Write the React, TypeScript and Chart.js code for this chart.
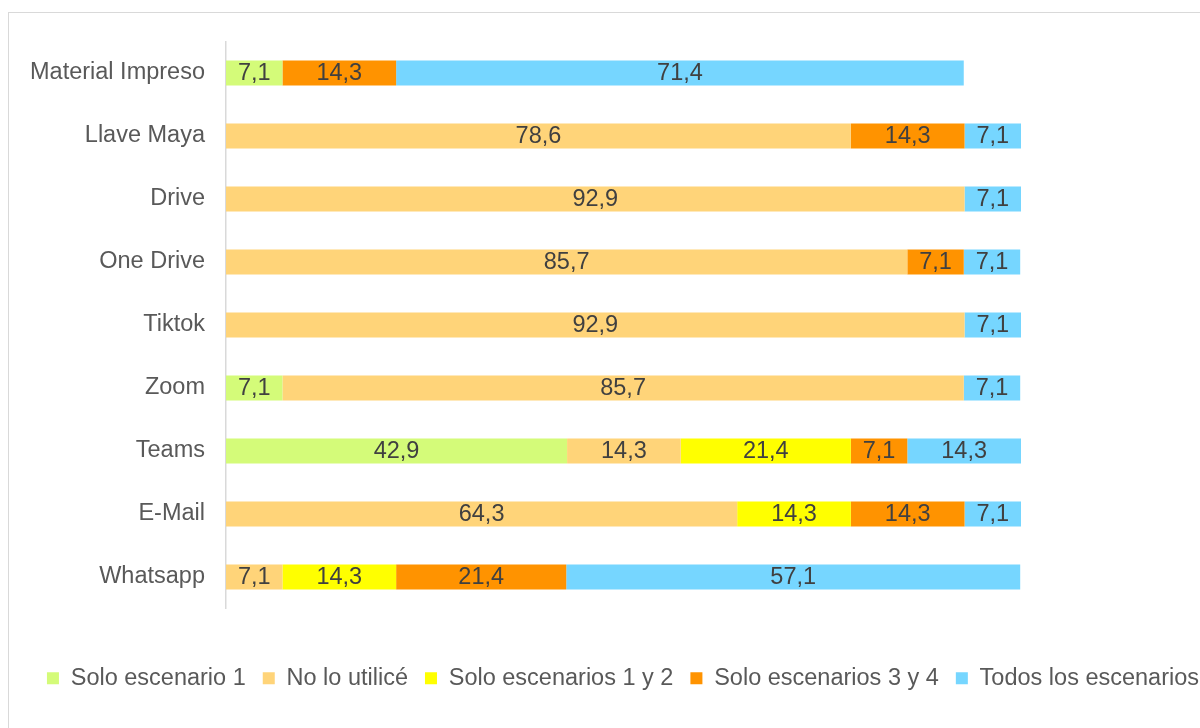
import React, { useEffect, useRef } from "react";
import { Chart, registerables } from "chart.js";

Chart.register(...registerables);

const categories = [
  "Material Impreso",
  "Llave Maya",
  "Drive",
  "One Drive",
  "Tiktok",
  "Zoom",
  "Teams",
  "E-Mail",
  "Whatsapp",
];

const seriesNames = [
  "Solo escenario 1",
  "No lo utilicé",
  "Solo escenarios 1 y 2",
  "Solo escenarios 3 y 4",
  "Todos los escenarios",
];

const soloEscenario1 = [7.1, 0, 0, 0, 0, 7.1, 42.9, 0, 0];
const noLoUtilice = [0, 78.6, 92.9, 85.7, 92.9, 85.7, 14.3, 64.3, 7.1];
const soloEscenarios12 = [0, 0, 0, 0, 0, 0, 21.4, 14.3, 14.3];
const soloEscenarios34 = [14.3, 14.3, 0, 7.1, 0, 0, 7.1, 14.3, 21.4];
const todosLosEscenarios = [71.4, 7.1, 7.1, 7.1, 7.1, 7.1, 14.3, 7.1, 57.1];

const seriesColors = ["#D4FB79", "#FFD479", "#FFFF00", "#FF9300", "#76D6FF"];

const FONT = "'Liberation Sans', Arial, Helvetica, sans-serif";

const dataLabelPlugin = {
  id: "inlineLabels",
  afterDatasetsDraw(chart: any) {
    const ctx = chart.ctx;
    ctx.save();
    ctx.font = `23.5px ${FONT}`;
    ctx.fillStyle = "#404040";
    ctx.textAlign = "center";
    ctx.textBaseline = "middle";
    chart.data.datasets.forEach((ds: any, di: number) => {
      const meta = chart.getDatasetMeta(di);
      meta.data.forEach((el: any, i: number) => {
        const v = ds.data[i];
        if (!v) return;
        const p = el.getProps(["x", "y", "base"], true);
        const cx = (p.x + p.base) / 2;
        ctx.fillText(v.toFixed(1).replace(".", ","), cx, p.y + 1);
      });
    });
    ctx.restore();
  },
};

export default function App() {
  const ref = useRef<HTMLCanvasElement | null>(null);

  useEffect(() => {
    if (!ref.current) return;
    const allSeries = [
      soloEscenario1,
      noLoUtilice,
      soloEscenarios12,
      soloEscenarios34,
      todosLosEscenarios,
    ];
    const chart = new Chart(ref.current, {
      type: "bar",
      data: {
        labels: categories,
        datasets: allSeries.map((d, i) => ({
          label: seriesNames[i],
          data: d,
          backgroundColor: seriesColors[i],
          borderWidth: 0,
          categoryPercentage: 1,
          barPercentage: 0.4,
        })),
      },
      options: {
        indexAxis: "y",
        responsive: false,
        animation: false,
        maintainAspectRatio: false,
        layout: { padding: { left: 0, right: 0, top: 28.5, bottom: 28 } },
        scales: {
          x: {
            stacked: true,
            min: 0,
            max: 100,
            display: true,
            grid: { display: false, drawTicks: false },
            border: { display: false },
            ticks: { display: false },
            afterFit: (s: any) => {
              s.height = 41;
              s.paddingLeft = 0;
              s.paddingRight = 0;
            },
          },
          y: {
            stacked: true,
            grid: { display: false, drawTicks: false },
            border: { display: true, color: "#d9d9d9", width: 1.5 },
            ticks: {
              color: "#595959",
              padding: 21,
              font: { size: 23.5, family: FONT },
            },
            afterFit: (s: any) => {
              s.width = 217;
              s.paddingTop = 0;
              s.paddingBottom = 0;
            },
          },
          yRight: {
            type: "category",
            position: "right",
            display: true,
            grid: { display: false, drawTicks: false },
            border: { display: false },
            ticks: { display: false },
            afterFit: (s: any) => {
              s.width = 216;
              s.paddingTop = 0;
              s.paddingBottom = 0;
            },
          },
        },
        plugins: {
          legend: {
            position: "bottom",
            labels: {
              boxWidth: 12,
              boxHeight: 12,
              padding: 17,
              color: "#595959",
              font: { size: 23.5, family: FONT },
            },
          },
          tooltip: { enabled: false },
        },
      },
      plugins: [dataLabelPlugin],
    });
    return () => chart.destroy();
  }, []);

  return (
    <div
      style={{
        position: "absolute",
        left: 8,
        top: 12,
        width: 1192,
        height: 716,
        boxSizing: "border-box",
        borderTop: "1px solid #d9d9d9",
        borderLeft: "1px solid #d9d9d9",
        background: "#fff",
        overflow: "hidden",
      }}
    >
      <canvas
        ref={ref}
        width={1228}
        height={715}
        style={{ position: "absolute", left: 0, top: 0, width: 1228, height: 715 }}
      />
    </div>
  );
}
